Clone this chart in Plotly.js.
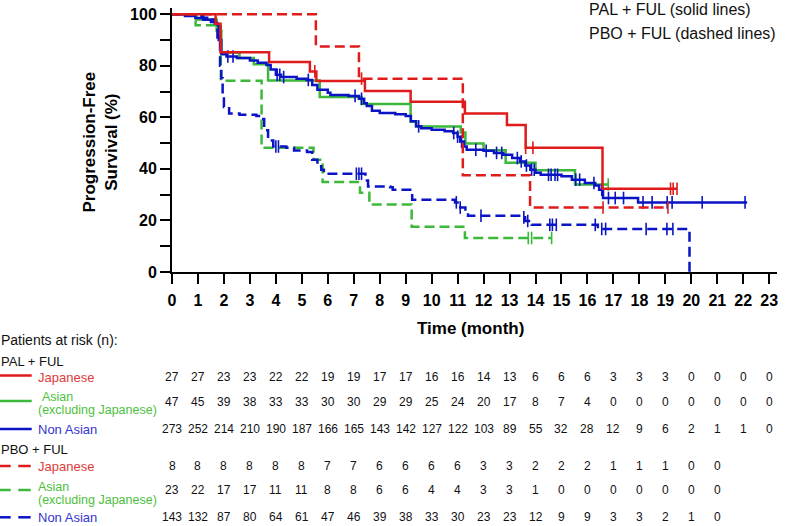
<!DOCTYPE html>
<html><head><meta charset="utf-8">
<script src="https://cdn.plot.ly/plotly-3.0.1.min.js"></script>
<style>html,body{margin:0;padding:0;background:#fff}</style>
</head><body><div id="chart" style="width:786px;height:526px"></div>
<script>
// ---------- DATA ----------
const monthTicks = [0,1,2,3,4,5,6,7,8,9,10,11,12,13,14,15,16,17,18,19,20,21,22,23];
const yTickVals = [0,10,20,30,40,50,60,70,80,90,100];
const yTickText = ['0','','20','','40','','60','','80','','100'];

// PAL + FUL, Japanese (solid red)
const palJapT = [0, 1.68, 1.87, 3.74, 5.31, 5.56, 7.43, 9.19, 11.28, 12.9, 13.62, 16.58, 19.45];
const palJapS = [100, 96.3, 85.2, 81.5, 77.8, 74.1, 70.2, 66.0, 61.5, 57.0, 48.2, 32.3, 32.3];
const palJapC = [5.5, 13.62, 13.9, 19.2, 19.3, 19.45];

// PAL + FUL, Asian excl. Japanese (solid green)
const palAsiT = [0, 0.94, 1.72, 1.9, 2.6, 3.15, 3.70, 5.69, 7.3, 9.19, 9.4, 11.12, 11.3, 12.0, 12.85, 14.0, 15.52, 16.8];
const palAsiS = [100, 97.9, 93.6, 85.1, 83.0, 80.6, 74.3, 67.9, 65.2, 58.3, 56.4, 54.1, 49.8, 47.2, 42.4, 39.5, 33.9, 33.9];
const palAsiC = [16.8];

// PAL + FUL, Non Asian (solid blue)
const palNonT = [0, 0.5, 0.9, 1.2, 1.5, 1.7, 1.8, 1.9, 2.1, 2.5, 3.0, 3.3, 3.64, 3.8, 4.0, 4.2, 4.8, 5.18, 5.4, 5.6, 6.0, 6.1, 6.8, 7.2, 7.4, 7.5, 7.7, 8.0, 8.6, 9.0, 9.2, 9.4, 9.6, 10.0, 10.5, 10.83, 11.0, 11.1, 11.25, 11.35, 12.0, 12.4, 12.76, 13.1, 13.4, 13.6, 13.8, 14.0, 14.2, 15.0, 15.4, 15.9, 16.3, 16.45, 16.6, 17.95, 22.15];
const palNonS = [100, 99.3, 98.5, 97.8, 97.0, 96.0, 90.0, 84.5, 83.6, 83.0, 82.0, 81.2, 80.3, 78.5, 76.5, 75.6, 75.0, 74.5, 72.5, 70.7, 69.5, 68.7, 68.3, 67.2, 65.5, 64.4, 62.5, 61.7, 61.2, 60.5, 58.5, 56.5, 55.8, 55.2, 54.6, 53.9, 52.5, 50.6, 48.7, 47.4, 47.0, 46.2, 45.5, 44.2, 42.9, 41.3, 39.7, 38.5, 37.7, 37.1, 35.8, 34.5, 33.6, 31.9, 28.7, 27.0, 27.0];
const palNonC = [2.15, 2.35, 4.05, 4.15, 4.3, 5.25, 7.05, 7.3, 9.5, 10.85, 11.0, 11.15, 11.7, 12.1, 12.5, 12.7, 13.3, 13.45, 13.65, 13.85, 13.95, 14.5, 14.6, 14.75, 14.85, 15.55, 15.7, 16.25, 16.55, 16.81, 17.07, 17.39, 18.14, 18.49, 19.07, 19.26, 20.42, 22.07];

// PBO + FUL, Japanese (dashed red)
const pboJapT = [0, 5.54, 7.2, 11.2, 13.79, 19.1];
const pboJapS = [100, 87.5, 75.0, 37.5, 25.0, 25.0];
const pboJapC = [7.3, 16.6, 19.1];

// PBO + FUL, Asian excl. Japanese (dashed green)
const pboAsiT = [0, 0.91, 1.88, 3.45, 5.45, 5.8, 7.24, 7.6, 9.23, 11.28, 14.62];
const pboAsiS = [100, 95.7, 74.2, 48.2, 43.5, 34.9, 30.7, 26.2, 17.6, 13.2, 13.2];
const pboAsiC = [13.72, 13.85, 14.62];

// PBO + FUL, Non Asian (dashed blue)
const pboNonT = [0, 0.9, 1.2, 1.5, 1.65, 1.75, 1.85, 1.9, 1.95, 2.0, 2.2, 2.6, 3.25, 3.4, 3.55, 3.7, 3.9, 4.4, 4.7, 5.2, 5.4, 5.6, 5.75, 5.85, 7.35, 7.45, 7.55, 8.4, 8.5, 9.25, 10.9, 11.1, 11.3, 11.4, 13.45, 13.6, 13.85, 16.4, 19.93];
const pboNonS = [100, 99.3, 98.6, 97.9, 96.5, 90.0, 80.0, 75.2, 68.0, 64.0, 61.5, 61.0, 60.5, 59.3, 55.0, 51.0, 48.7, 48.2, 47.1, 46.5, 43.5, 41.0, 39.7, 38.1, 38.1, 35.5, 33.2, 32.9, 31.9, 28.0, 27.0, 25.0, 23.0, 21.8, 21.2, 19.8, 18.3, 16.7, 0];
const pboNonC = [4.0, 4.1, 7.1, 7.2, 7.3, 10.95, 11.1, 11.9, 13.55, 13.7, 14.55, 14.65, 14.8, 16.3, 16.55, 16.7, 18.26, 19.06, 19.29];

// Patients at risk
const riskPalJap = [27,27,23,23,22,22,19,19,17,17,16,16,14,13,6,6,6,3,3,3,0,0,0,0];
const riskPalAsi = [47,45,39,38,33,33,30,30,29,29,25,24,20,17,8,7,4,0,0,0,0,0,0,0];
const riskPalNon = [273,252,214,210,190,187,166,165,143,142,127,122,103,89,55,32,28,12,9,6,2,1,1,0];
const riskPboJap = [8,8,8,8,8,8,7,7,6,6,6,6,3,3,2,2,2,1,1,1,0,0];
const riskPboAsi = [23,22,17,17,11,11,8,8,6,6,4,4,3,3,1,0,0,0,0,0,0,0];
const riskPboNon = [143,132,87,80,64,61,47,46,39,38,33,30,23,23,12,9,9,3,3,2,1,0];

// ---------- STYLE / LAYOUT ----------
const W = 786, H = 526, ML = 172, MR = 9, MT = 8, MB = 254;
const PW = W - ML - MR, PH = H - MT - MB;
const px = v => (v - ML) / PW;
const py = v => (H - MB - v) / PH;

const RED = '#e01b1b', GREEN = '#3cb83a', BLUE = '#0a14c4';
const RED_T = '#e03a3a', GREEN_T = '#4cbf3c', BLUE_T = '#3434d0';
const FONT = 'Liberation Sans, Arial, Helvetica, sans-serif';
const DASH = '10px,5px';

function survAt(ts, ss, t) {
  let v = ss[0];
  for (let i = 0; i < ts.length; i++) if (ts[i] <= t + 1e-9) v = ss[i];
  return v;
}

const series = [
  {t: palAsiT, s: palAsiS, c: palAsiC, col: GREEN, dash: 'solid'},
  {t: palNonT, s: palNonS, c: palNonC, col: BLUE, dash: 'solid'},
  {t: pboAsiT, s: pboAsiS, c: pboAsiC, col: GREEN, dash: DASH},
  {t: pboNonT, s: pboNonS, c: pboNonC, col: BLUE, dash: DASH},
  {t: pboJapT, s: pboJapS, c: pboJapC, col: RED, dash: DASH},
  {t: palJapT, s: palJapS, c: palJapC, col: RED, dash: 'solid'}
];

const traces = [];
series.forEach(sr => {
  traces.push({x: sr.t, y: sr.s, type: 'scatter', mode: 'lines',
    line: {shape: 'hv', color: sr.col, width: 2.5, dash: sr.dash},
    hoverinfo: 'skip', showlegend: false, cliponaxis: false});
  traces.push({x: sr.c, y: sr.c.map(t => survAt(sr.t, sr.s, t)), type: 'scatter', mode: 'markers',
    marker: {symbol: 'line-ns-open', size: 9, color: sr.col, line: {color: sr.col, width: 1.6}},
    hoverinfo: 'skip', showlegend: false, cliponaxis: false});
});

const ann = [];
function txt(text, x, y, size, opts) {
  ann.push(Object.assign({text: text, x: px(x), y: py(y), xref: 'paper', yref: 'paper',
    xanchor: 'left', yanchor: 'middle', showarrow: false, borderpad: 0,
    font: {family: FONT, size: size, color: '#111'}}, opts || {}));
}
txt('PAL + FUL (solid lines)', 588, 10, 16);
txt('PBO + FUL (dashed lines)', 588, 33.5, 16);
txt('Time (month)', 470, 328, 17, {xanchor: 'center', font: {family: FONT, size: 17, color: '#000', weight: 'bold'}});
txt('Progression-Free<br>Survival (%)', 99.5, 142, 17, {xanchor: 'center', textangle: -90, font: {family: FONT, size: 17, color: '#000', weight: 'bold'}});

txt('Patients at risk (n):', 0, 340, 14);
txt('PAL + FUL', 0, 361.7, 13);
txt('Japanese', 37, 377.3, 13, {font: {family: FONT, size: 13, color: RED_T}});
txt('Asian', 41, 396.8, 12, {font: {family: FONT, size: 12.5, color: GREEN_T}});
txt('(excluding Japanese)', 37, 410.3, 12, {font: {family: FONT, size: 12.5, color: GREEN_T}});
txt('Non Asian', 37, 429, 13, {font: {family: FONT, size: 13, color: BLUE_T}});
txt('PBO + FUL', 0, 449.3, 13);
txt('Japanese', 37, 466, 13, {font: {family: FONT, size: 13, color: RED_T}});
txt('Asian', 37, 486.8, 12, {font: {family: FONT, size: 12.5, color: GREEN_T}});
txt('(excluding Japanese)', 37, 500.3, 12, {font: {family: FONT, size: 12.5, color: GREEN_T}});
txt('Non Asian', 37, 517.3, 13, {font: {family: FONT, size: 13, color: BLUE_T}});

const rows = [
  [riskPalJap, 377.3], [riskPalAsi, 401.7], [riskPalNon, 429],
  [riskPboJap, 466], [riskPboAsi, 490], [riskPboNon, 517.3]
];
rows.forEach(([vals, yy]) => {
  vals.forEach((v, i) => {
    ann.push({text: String(v), x: monthTicks[i], y: py(yy), xref: 'x', yref: 'paper',
      xanchor: 'center', yanchor: 'middle', showarrow: false,
      font: {family: FONT, size: 12, color: '#111'}});
  });
});

const shapes = [];
function seg(x0, x1, y, col) {
  shapes.push({type: 'line', xref: 'paper', yref: 'paper', x0: px(x0), x1: px(x1), y0: py(y), y1: py(y),
    line: {color: col, width: 2.5}});
}
seg(0, 31.7, 375.5, RED);
seg(0, 31.7, 401, GREEN);
seg(0, 31.7, 429, BLUE);
[[466, RED], [490, GREEN], [517.3, BLUE]].forEach(([yy, c]) => { seg(0, 10.7, yy, c); seg(18.3, 30.7, yy, c); });

const axisFont = {family: FONT, size: 16, color: '#000', weight: 'bold'};
const layout = {
  width: W, height: H,
  margin: {l: ML, r: MR, t: MT, b: MB, pad: 0},
  paper_bgcolor: '#fff', plot_bgcolor: '#fff',
  showlegend: false,
  xaxis: {range: [0, 23.3], tickmode: 'array', tickvals: monthTicks, ticktext: monthTicks.map(String),
    ticks: 'outside', ticklen: 10, tickwidth: 2, tickcolor: '#000', ticklabelstandoff: 3,
    showline: true, linewidth: 2, linecolor: '#000', showgrid: false, zeroline: false,
    tickfont: axisFont, fixedrange: true},
  yaxis: {range: [0, 102.4], tickmode: 'array', tickvals: yTickVals, ticktext: yTickText,
    ticks: 'outside', ticklen: 10, tickwidth: 2, tickcolor: '#000',
    showline: true, linewidth: 2, linecolor: '#000', showgrid: false, zeroline: false,
    tickfont: axisFont, fixedrange: true},
  annotations: ann,
  shapes: shapes
};

Plotly.newPlot('chart', traces, layout, {staticPlot: true, displayModeBar: false});
</script>
</body></html>
